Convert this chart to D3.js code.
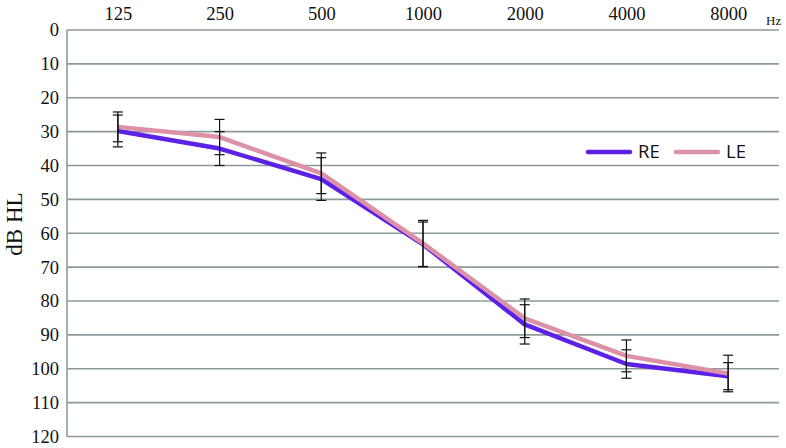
<!DOCTYPE html>
<html>
<head>
<meta charset="utf-8">
<script src="https://cdn.jsdelivr.net/npm/d3@7"></script>
<style>
  body { margin: 0; background: #fff; }
</style>
</head>
<body>
<div class="chart"></div>
<script>
// data
const freqs = ["125", "250", "500", "1000", "2000", "4000", "8000"];
const reValues = [29.8, 35.0, 44.0, 63.3, 86.9, 98.6, 102.2];
const leValues = [28.6, 31.6, 42.3, 63.0, 85.1, 96.2, 101.4];
const reErr = [4.7, 5.0, 6.3, 6.6, 5.8, 4.2, 4.0];
const leErr = [4.4, 5.2, 6.0, 6.8, 5.7, 4.7, 5.4];
const yTicks = [0, 10, 20, 30, 40, 50, 60, 70, 80, 90, 100, 110, 120];

const width = 786, height = 448;
const margin = {top: 30, right: 7, bottom: 11.5, left: 67};

const svg = d3.select('.chart')
    .append('svg')
    .attr('width', width)
    .attr('height', height);

const xScale = d3.scalePoint()
    .domain(freqs)
    .range([margin.left, width - margin.right])
    .padding(0.5);

const yScale = d3.scaleLinear()
    .domain([0, 120])
    .range([margin.top, height - margin.bottom]);

// grid lines
svg.append('g')
    .selectAll('line')
    .data(yTicks)
    .join('line')
    .attr('x1', margin.left)
    .attr('x2', width - margin.right)
    .attr('y1', d => yScale(d))
    .attr('y2', d => yScale(d))
    .attr('stroke', '#8c9a9a')
    .attr('stroke-width', 1.6);

// left axis line
svg.append('line')
    .attr('x1', margin.left).attr('x2', margin.left)
    .attr('y1', yScale(0)).attr('y2', yScale(120))
    .attr('stroke', '#8c9a9a')
    .attr('stroke-width', 1.6);

// y tick labels
const yAxis = g => g
    .attr("transform", `translate(${margin.left - 8},0)`)
    .call(d3.axisLeft(yScale).tickValues(yTicks).tickSize(0).tickPadding(0))
    .call(g => g.select(".domain").remove())
    .call(g => g.selectAll("text")
        .attr("font-family", "'Liberation Serif', 'DejaVu Serif', serif")
        .attr("font-size", 18.5)
        .attr("fill", "#111"));
svg.append('g').call(yAxis);

// x labels on top
const xAxis = g => g
    .attr("transform", `translate(0,${margin.top - 10})`)
    .call(d3.axisTop(xScale).tickSize(0).tickPadding(0))
    .call(g => g.select(".domain").remove())
    .call(g => g.selectAll("text")
        .attr("font-family", "'Liberation Serif', 'DejaVu Serif', serif")
        .attr("font-size", 18.5)
        .attr("fill", "#111"));
svg.append('g').call(xAxis);

svg.append('text')
    .attr('x', 766)
    .attr('y', 25)
    .attr('font-family', "'Liberation Serif', serif")
    .attr('font-size', 13)
    .attr('fill', '#111')
    .text('Hz');

svg.append('text')
    .attr('transform', 'translate(22,224) rotate(-90)')
    .attr('text-anchor', 'middle')
    .attr('font-family', "'Liberation Serif', serif")
    .attr('font-size', 23)
    .attr('fill', '#111')
    .text('dB HL');

const series = [
    {name: 'RE', values: reValues, err: reErr, color: '#5b22e6'},
    {name: 'LE', values: leValues, err: leErr, color: '#dc91a7'}
];

const line = d3.line()
    .x((d, i) => xScale(freqs[i]))
    .y(d => yScale(d));

series.forEach(s => {
    svg.append('path')
        .datum(s.values)
        .attr('fill', 'none')
        .attr('stroke', s.color)
        .attr('stroke-width', 4.5)
        .attr('stroke-linejoin', 'round')
        .attr('d', line);
});

// error bars
series.forEach(s => {
    const g = svg.append('g').attr('stroke', '#111').attr('stroke-width', 1.2);
    s.values.forEach((v, i) => {
        const x = xScale(freqs[i]);
        const lo = yScale(v - s.err[i]), hi = yScale(v + s.err[i]);
        g.append('line').attr('x1', x).attr('x2', x).attr('y1', lo).attr('y2', hi);
        g.append('line').attr('x1', x - 5).attr('x2', x + 5).attr('y1', lo).attr('y2', lo);
        g.append('line').attr('x1', x - 5).attr('x2', x + 5).attr('y1', hi).attr('y2', hi);
    });
});

// legend
const legend = svg.append('g')
    .selectAll('g')
    .data(series)
    .join('g')
    .attr('transform', (d, i) => `translate(${588 + i * 88},152)`);

legend.append('line')
    .attr('x1', 0).attr('x2', 42)
    .attr('stroke', d => d.color)
    .attr('stroke-width', 4.5)
    .attr('stroke-linecap', 'round');

legend.append('text')
    .attr('x', 50)
    .attr('dy', '0.35em')
    .attr('font-family', "'Open Sans', 'Noto Sans', sans-serif")
    .attr('font-size', 18.5)
    .attr('fill', '#111')
    .text(d => d.name);
</script>
</body>
</html>
